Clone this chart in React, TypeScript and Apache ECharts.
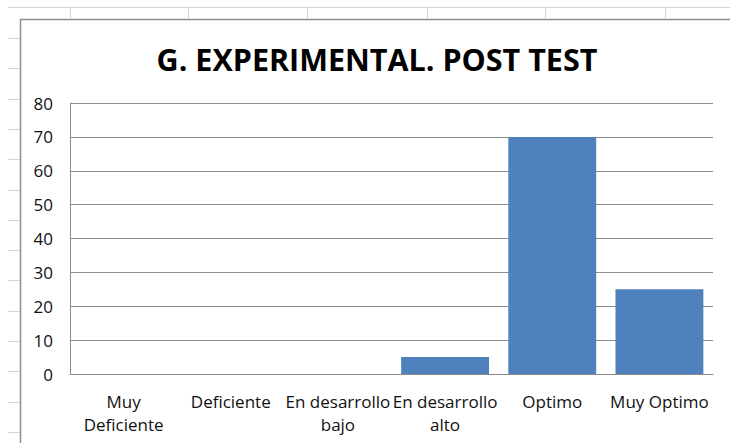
import React, { useEffect, useRef } from "react";
import * as echarts from "echarts";

const categories = ["Muy Deficiente", "Deficiente", "En desarrollo bajo", "En desarrollo alto", "Optimo", "Muy Optimo"];
const tickLabels = ["Muy\nDeficiente", "Deficiente", "En desarrollo\nbajo", "En desarrollo\nalto", "Optimo", "Muy Optimo"];
const values = [0, 0, 0, 5, 70, 25];
const yTicks = [0, 10, 20, 30, 40, 50, 60, 70, 80];
const titleText = "G. EXPERIMENTAL. POST TEST";

export default function App() {
  const ref = useRef<HTMLDivElement>(null);
  useEffect(() => {
    if (!ref.current) return;
    const chart = echarts.init(ref.current, null, { renderer: "svg" });
    const sheetLine = { stroke: "#d4d4d4", lineWidth: 1 };
    const graphics: any[] = [];
    graphics.push({ type: "line", shape: { x1: 8, y1: 7.5, x2: 730, y2: 7.5 }, style: sheetLine, z: 0 });
    [70, 188, 307, 427, 545, 665].forEach((x) =>
      graphics.push({ type: "line", shape: { x1: x + 0.5, y1: 7, x2: x + 0.5, y2: 19 }, style: sheetLine, z: 0 })
    );
    for (let k = 0; k < 14; k++) {
      const y = Math.round(38 + 30.3 * k) + 0.5;
      graphics.push({ type: "line", shape: { x1: 8, y1: y, x2: 20, y2: y }, style: sheetLine, z: 0 });
    }
    graphics.push({ type: "rect", shape: { x: 20.5, y: 19.5, width: 720, height: 440 }, style: { fill: "#fff", stroke: "#8e8e8e", lineWidth: 1.5 }, z: -1 });

    chart.setOption({
      animation: false,
      backgroundColor: "#fff",
      title: {
        text: titleText,
        left: 372,
        textAlign: "center",
        top: 38,
        textStyle: { fontFamily: "Open Sans", fontWeight: "bold", fontSize: 30.5, color: "#000" },
      },
      graphic: graphics,
      grid: { left: 70, right: 17, top: 103, bottom: 69, containLabel: false },
      xAxis: {
        type: "category",
        data: categories,
        axisLine: { show: true, lineStyle: { color: "#8c8c8c", width: 1 } },
        axisTick: { show: false },
        axisLabel: {
          interval: 0,
          margin: 16,
          color: "#111",
          fontFamily: "Open Sans",
          fontSize: 17,
          lineHeight: 23,
          formatter: (_v: string, i: number) => tickLabels[i],
        },
      },
      yAxis: {
        type: "value",
        min: yTicks[0],
        max: yTicks[yTicks.length - 1],
        interval: 10,
        axisLine: { show: true, lineStyle: { color: "#8c8c8c", width: 1 } },
        axisTick: { show: false },
        splitLine: { lineStyle: { color: "#8c8c8c", width: 1 } },
        axisLabel: { margin: 17, color: "#111", fontFamily: "Open Sans", fontSize: 17 },
      },
      series: [
        {
          type: "bar",
          data: values,
          barCategoryGap: "18%",
          itemStyle: { color: "#4f81bd" },
        },
      ],
    });
    return () => chart.dispose();
  }, []);
  return <div ref={ref} style={{ position: "fixed", left: 0, top: 0, width: 730, height: 443 }} />;
}
